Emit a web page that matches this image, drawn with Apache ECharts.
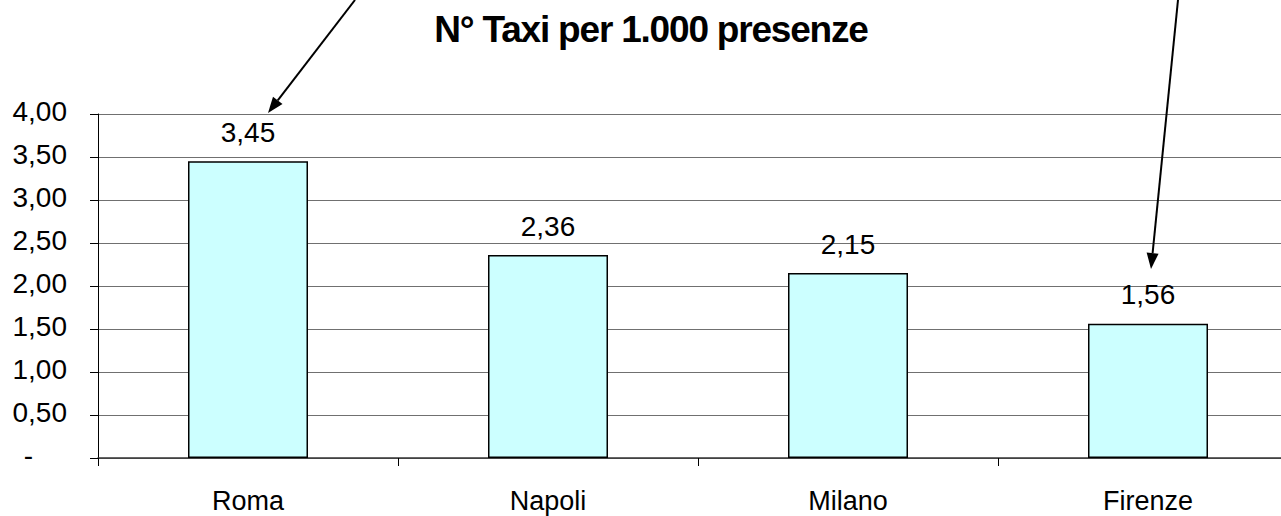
<!DOCTYPE html>
<html>
<head>
<meta charset="utf-8">
<script src="https://cdn.jsdelivr.net/npm/echarts@6/dist/echarts.min.js"></script>
<style>
html,body{margin:0;padding:0;background:#fff;overflow:hidden;width:1281px;height:516px;}
#c{width:1300px;height:516px;}
#c text[style*="bold"]{letter-spacing:-1.2px;}
</style>
</head>
<body>
<div id="c"></div>
<script>
const titleText = 'N° Taxi per 1.000 presenze';
const categories = ['Roma', 'Napoli', 'Milano', 'Firenze'];
const values = [3.45, 2.36, 2.15, 1.56];
const yTicks = [0, 0.5, 1, 1.5, 2, 2.5, 3, 3.5, 4];

const fmt = v => v.toFixed(2).replace('.', ',');
const FONT = '"Liberation Sans", Arial, sans-serif';

const chart = echarts.init(document.getElementById('c'), null, {renderer: 'svg'});

function arrow(x1, y1, x2, y2) {
  const ang = Math.atan2(y2 - y1, x2 - x1);
  const L = 16, W = 6;
  const bx = x2 - L * Math.cos(ang), by = y2 - L * Math.sin(ang);
  const px = -Math.sin(ang) * W, py = Math.cos(ang) * W;
  return [
    {type: 'line', shape: {x1: x1, y1: y1, x2: bx, y2: by}, style: {stroke: '#000', lineWidth: 2}, z: 100},
    {type: 'polygon', shape: {points: [[x2, y2], [bx + px, by + py], [bx - px, by - py]]}, style: {fill: '#000'}, z: 100}
  ];
}

chart.setOption({
  animation: false,
  backgroundColor: '#fff',
  title: {
    text: titleText,
    left: 646, top: 6, textAlign: 'center',
    textStyle: {fontFamily: FONT, fontSize: 37, fontWeight: 'bold', color: '#000'}
  },
  grid: {left: 98, top: 114, width: 1200, height: 344, containLabel: false},
  xAxis: {
    type: 'category',
    data: categories,
    axisLine: {lineStyle: {color: '#333', width: 1.5}},
    axisTick: {show: true, length: 8, lineStyle: {color: '#000'}},
    axisLabel: {fontFamily: FONT, fontSize: 27, color: '#000', margin: 29}
  },
  yAxis: {
    type: 'value',
    min: yTicks[0], max: yTicks[yTicks.length - 1], interval: 0.5,
    axisLine: {show: true, lineStyle: {color: '#000', width: 1}},
    axisTick: {show: true, length: 8, lineStyle: {color: '#000'}},
    splitLine: {show: true, lineStyle: {color: '#707070', width: 1}},
    axisLabel: {
      fontFamily: FONT, fontSize: 28, color: '#000', margin: 31,
      padding: [0, 0, 5, 0],
      formatter: v => v === 0 ? '{d|-}' : fmt(v),
      rich: {d: {fontFamily: FONT, fontSize: 28, color: '#000', padding: [0, 34, 0, 0]}}
    }
  },
  series: [{
    type: 'bar',
    data: values,
    barWidth: '40%',
    itemStyle: {color: '#CCFFFF', borderColor: '#000', borderWidth: 1.5},
    label: {
      show: true, position: 'top', distance: 15,
      fontFamily: FONT, fontSize: 28, color: '#000',
      formatter: p => fmt(p.value)
    }
  }],
  graphic: [].concat(arrow(355, 0, 268, 113), arrow(1178, 0, 1151, 269))
});
</script>
</body>
</html>
